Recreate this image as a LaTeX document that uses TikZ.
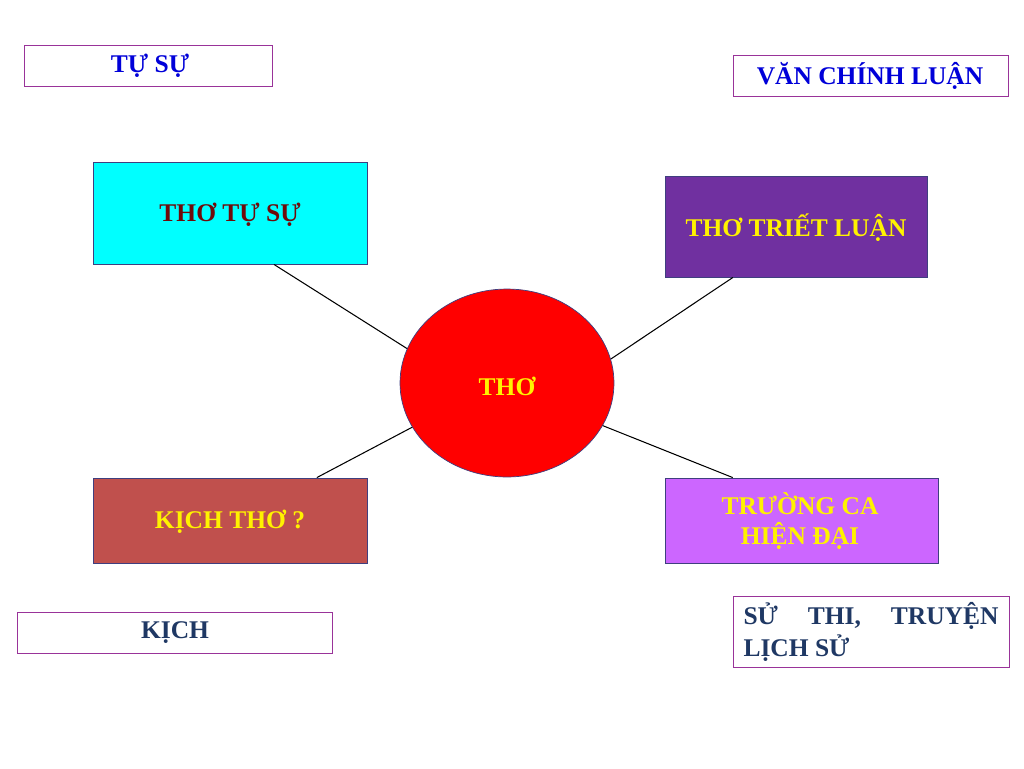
\documentclass[tikz,border=0pt]{standalone}
\usepackage{fontspec}
\setmainfont{Liberation Serif}
\usetikzlibrary{calc,shapes.geometric}
\definecolor{khung}{HTML}{993399}
\definecolor{vien}{HTML}{3F3F7F}
\definecolor{navy}{HTML}{1F3864}
\definecolor{nauDo}{HTML}{6E0A0A}
\definecolor{xanhLo}{HTML}{00FFFF}
\definecolor{tim}{HTML}{7030A0}
\definecolor{gach}{HTML}{C0504D}
\definecolor{hong}{HTML}{CC66FF}
\tikzset{
  nhan/.style={font=\fontsize{14.5}{17}\selectfont\bfseries, inner sep=0pt},
  hop/.style={draw=khung, fill=white, line width=0.5pt},
  mau/.style={draw=vien, line width=0.5pt},
  noi/.style={line width=0.6pt}
}
\begin{document}
\begin{tikzpicture}[x=0.02cm,y=-0.02cm]
    \useasboundingbox (0,0) rectangle (1024,768);

    % Khung the loai
    \draw[hop] (24,45) rectangle (272,86);
    \node[nhan, text=blue!85!black] (tusu) at (150,66) {TỰ SỰ};
    \draw[hop] (733,55) rectangle (1008,96);
    \node[nhan, text=blue!85!black] (vcl) at (870,76) {VĂN CHÍNH LUẬN};
    \draw[hop] (17,612) rectangle (332,653);
    \node[nhan, text=navy] (kich) at (175,633) {KỊCH};
    \draw[hop] (733,596) rectangle (1009,667);
    \node[nhan, text=navy, align=left] (suthi) at (871,632)
        {\parbox{5.1cm}{SỬ\hfill THI,\hfill TRUYỆN\\[1pt]LỊCH SỬ}};

    % Cac nhanh
    \node[mau, fill=xanhLo, minimum width=5.48cm, minimum height=2.04cm] (tts) at (230,213) {};
    \node[nhan, text=nauDo] at (230,215) {THƠ TỰ SỰ};
    \node[mau, fill=tim, minimum width=5.24cm, minimum height=2.02cm] (ttl) at (796,226.5) {};
    \node[nhan, text=yellow] at (796,228) {THƠ TRIẾT LUẬN};
    \node[mau, fill=gach, minimum width=5.48cm, minimum height=1.7cm] (kt) at (230,520.5) {};
    \node[nhan, text=yellow] at (230,522) {KỊCH THƠ ?};
    \node[mau, fill=hong, minimum width=5.46cm, minimum height=1.7cm] (tc) at (801.5,520.5) {};
    \node[nhan, text=yellow, align=center] at (800,521) {TRƯỜNG CA\\HIỆN ĐẠI};

    % Trung tam
    \node[ellipse, draw=vien, fill=red, minimum width=4.28cm, minimum height=3.76cm,
          inner sep=0pt] (tho) at (507,383) {};
    \node[nhan, text=yellow] at (507,386) {THƠ};

    % Duong noi
    \draw[noi] ($(tts.south west)!0.66!(tts.south east)$) -- (tho.161);
    \draw[noi] ($(ttl.south west)!0.26!(ttl.south east)$) -- (tho.13.5);
    \draw[noi] ($(kt.north west)!0.816!(kt.north east)$) -- (tho.205.6);
    \draw[noi] ($(tc.north west)!0.249!(tc.north east)$) -- (tho.-24);
\end{tikzpicture}
\end{document}
